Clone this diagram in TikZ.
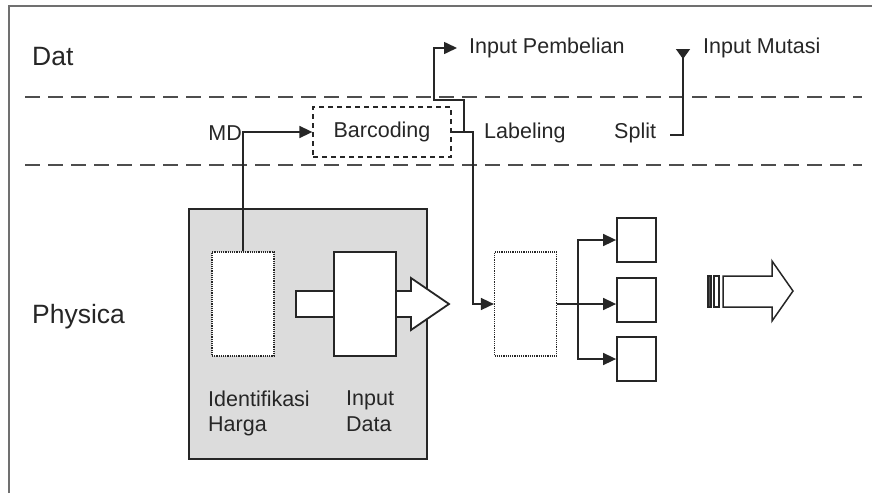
\documentclass[tikz,border=0pt]{standalone}
\usepackage{fontspec}
\setmainfont{Liberation Sans}
\usetikzlibrary{arrows.meta}
\definecolor{linegray}{HTML}{262626}
\definecolor{framegray}{HTML}{707070}
\definecolor{boxgray}{HTML}{DCDCDC}
\definecolor{dashgray}{HTML}{4D4D4D}
\begin{document}
\begin{tikzpicture}[x=1pt,y=1pt]
\tikzstyle{every node}+=[inner sep=0pt]
\tikzstyle{lbl}=[font=\fontsize{21.5}{25}\selectfont,text=linegray]
\tikzstyle{biglbl}=[font=\fontsize{26.5}{30}\selectfont,text=linegray]
\tikzstyle{conn}=[draw=linegray,line width=1.6pt]
\tikzstyle{arr}=[conn,-{Triangle[length=13pt,width=12pt]}]
\tikzstyle{dotbox}=[draw=linegray,densely dotted,line width=1.2pt,fill=white,minimum width=62pt,minimum height=104pt]
\tikzstyle{solidbox}=[draw=linegray,line width=1.8pt,fill=white]
\useasboundingbox (0,0) rectangle (872,-493);
% frame and lanes
\draw [framegray,line width=2pt] (9,-493) -- (9,-6) -- (872,-6);
\draw [dashgray,line width=1.8pt,dash pattern=on 15pt off 8pt] (25,-97) -- (862,-97);
\draw [dashgray,line width=1.8pt,dash pattern=on 15pt off 8pt] (25,-165) -- (862,-165);
\node [biglbl,anchor=west] (dat) at (32,-57) {Dat};
\node [biglbl,anchor=west] (physica) at (32,-317) {Physica};
% data lane
\node [draw=linegray,dashed,dash pattern=on 5pt off 4pt,line width=1.3pt,minimum width=138pt,minimum height=50pt,lbl] (barcoding) at (382,-132) {Barcoding};
\node [lbl,anchor=east] (md) at (242,-133) {MD};
\node [lbl,anchor=west] (labeling) at (484,-133) {Labeling};
\node [lbl,anchor=west] (split) at (614,-133) {Split};
\node [lbl,anchor=west] (pembelian) at (469,-48) {Input Pembelian};
\node [lbl,anchor=west] (mutasi) at (703,-48) {Input Mutasi};
% physical lane
\draw [boxgray,fill=boxgray] (189,-209) rectangle (427,-459);
\draw [linegray,line width=1.8pt] (189,-209) rectangle (427,-459);
\node [dotbox] (ident) at (243,-304) {};
\draw [solidbox] (296,-291) -- (411,-291) -- (411,-278) -- (449,-304) -- (411,-330) -- (411,-317) -- (296,-317) -- cycle;
\node [solidbox,minimum width=62pt,minimum height=104pt] (inputdata) at (365,-304) {};
\node [lbl,anchor=north west,align=left] (identlbl) at (208,-391) {Identifikasi\\Harga};
\node [lbl,anchor=north west,align=left] (inputlbl) at (346,-391) {Input\\Data};
\node [dotbox] (sortbox) at (525.5,-304) {};
\node [solidbox,minimum width=39pt,minimum height=44pt] (out1) at (636.5,-240) {};
\node [solidbox,minimum width=39pt,minimum height=44pt] (out2) at (636.5,-300) {};
\node [solidbox,minimum width=39pt,minimum height=44pt] (out3) at (636.5,-359) {};
\draw [linegray,line width=1.5pt,fill=dashgray] (708,-276) rectangle (711,-307);
\draw [solidbox,line width=1.5pt] (714,-276) rectangle (719,-307);
\draw [solidbox,line width=1.5pt] (723,-276) -- (772,-276) -- (772,-261) -- (793,-291) -- (772,-321) -- (772,-307) -- (723,-307) -- cycle;
% connectors
\draw [arr] (ident.north) |- (barcoding.west);
\coordinate (down) at (473,-132);
\draw [arr] (barcoding.east) -- (down) |- (sortbox.west);
\coordinate (tap) at (464,-132);
\coordinate (kink) at (434,-100);
\draw [arr] (tap) |- (kink) |- ([xshift=-12pt]pembelian.west);
\coordinate (splitstart) at ([xshift=14pt,yshift=-2pt]split.east);
\draw [conn,-{Triangle[reversed,length=10pt,width=14pt]}] (splitstart) -| ([xshift=-20pt,yshift=-1pt]mutasi.west);
\coordinate (fork) at (578,-304);
\draw [conn] (sortbox.east) -- (fork);
\draw [arr] (fork) |- (out1.west);
\draw [arr] (fork) -- (fork -| out2.west);
\draw [arr] (fork) |- (out3.west);
\end{tikzpicture}
\end{document}
